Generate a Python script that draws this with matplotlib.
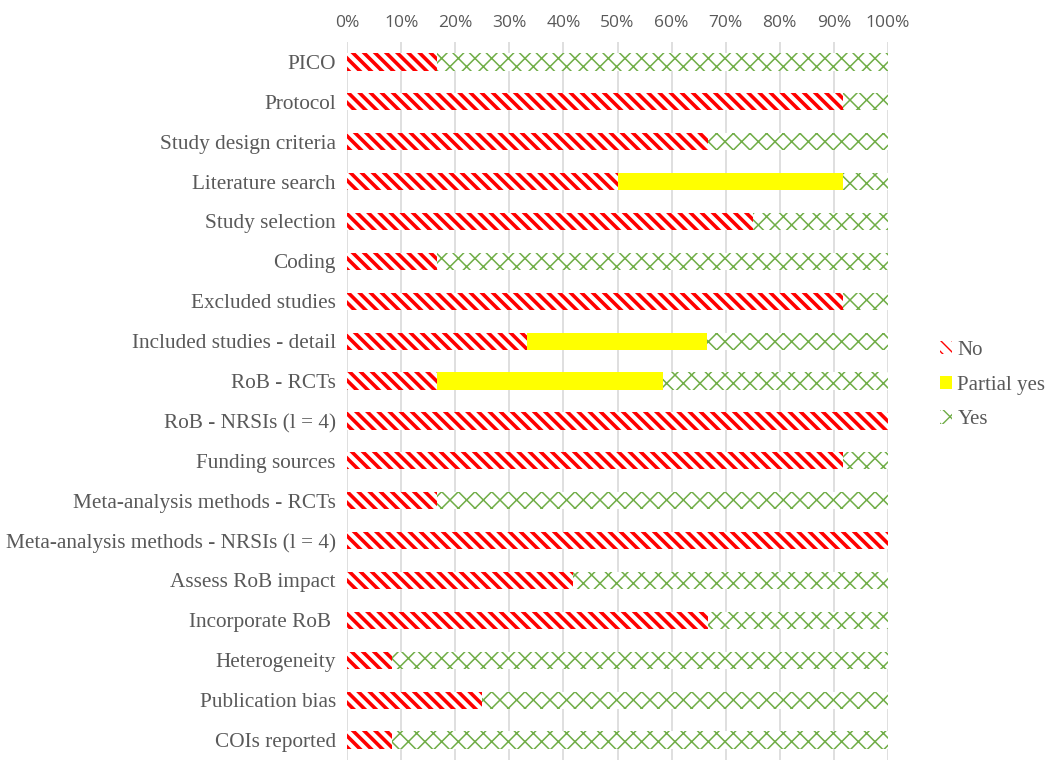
import matplotlib
matplotlib.use("Agg")
import matplotlib.pyplot as plt
import numpy as np

categories = ["PICO", "Protocol", "Study design criteria", "Literature search",
              "Study selection", "Coding", "Excluded studies",
              "Included studies - detail", "RoB - RCTs", "RoB - NRSIs (l = 4)",
              "Funding sources", "Meta-analysis methods - RCTs",
              "Meta-analysis methods - NRSIs (l = 4)", "Assess RoB impact",
              "Incorporate RoB ", "Heterogeneity", "Publication bias", "COIs reported"]
no_vals = [16.7, 91.7, 66.7, 50.0, 75.0, 16.7, 91.7, 33.3, 16.7, 100.0,
           91.7, 16.7, 100.0, 41.7, 66.7, 8.3, 25.0, 8.3]
partial_vals = [0, 0, 0, 41.7, 0, 0, 0, 33.3, 41.7, 0,
                0, 0, 0, 0, 0, 0, 0, 0]
yes_vals = [83.3, 8.3, 33.3, 8.3, 25.0, 83.3, 8.3, 33.4, 41.6, 0.0,
            8.3, 83.3, 0.0, 58.3, 33.3, 91.7, 75.0, 91.7]
xticks = np.arange(0, 101, 10)

fig = plt.figure(figsize=(10.5, 7.75), dpi=100)
ax = fig.add_axes([0.3305, 0.0194, 0.5152, 0.9264])

y = np.arange(len(categories))
h = 0.43
no = np.array(no_vals); pa = np.array(partial_vals); ye = np.array(yes_vals)

with plt.rc_context({'hatch.linewidth': 2.6}):
    b1 = ax.barh(y, no, height=h, color='white', edgecolor='#FF0000',
                 hatch='\\\\\\', linewidth=0, label='No', zorder=2)
b2 = ax.barh(y, pa, left=no, height=h, color='#FFFF00', linewidth=0,
             label='Partial yes', zorder=2)
with plt.rc_context({'hatch.linewidth': 1.1}):
    b3 = ax.barh(y, ye, left=no + pa, height=h, color='white', edgecolor='#70AD47',
                 hatch='xx', linewidth=0, label='Yes', zorder=2)

ax.set_ylim(len(categories) - 0.5, -0.5)
ax.set_xlim(0, 100)
ax.set_xticks(xticks)
ax.set_xticklabels([f"{v}%" for v in xticks], fontsize=12.5, color='#595959',
                   family=['Open Sans', 'DejaVu Sans'])
ax.xaxis.tick_top()
ax.tick_params(axis='x', length=0, pad=8)
ax.tick_params(axis='y', length=0, pad=8)
ax.set_yticks(y)
ax.set_yticklabels(categories, fontsize=15.3, color='#595959', family='Liberation Serif')
ax.grid(axis='x', color='#D9D9D9', linewidth=1.2, zorder=0)
ax.set_axisbelow(True)
for s in ax.spines.values():
    s.set_visible(False)

leg = fig.legend(handles=[b1, b2, b3], labels=['No', 'Partial yes', 'Yes'],
                 loc='center left', bbox_to_anchor=(0.877, 0.503), frameon=False,
                 prop={'family': 'Liberation Serif', 'size': 15},
                 handlelength=0.6, handleheight=0.6, handletextpad=0.25,
                 labelspacing=0.75, labelcolor='#595959')

fig.savefig('out.png', dpi=100)
